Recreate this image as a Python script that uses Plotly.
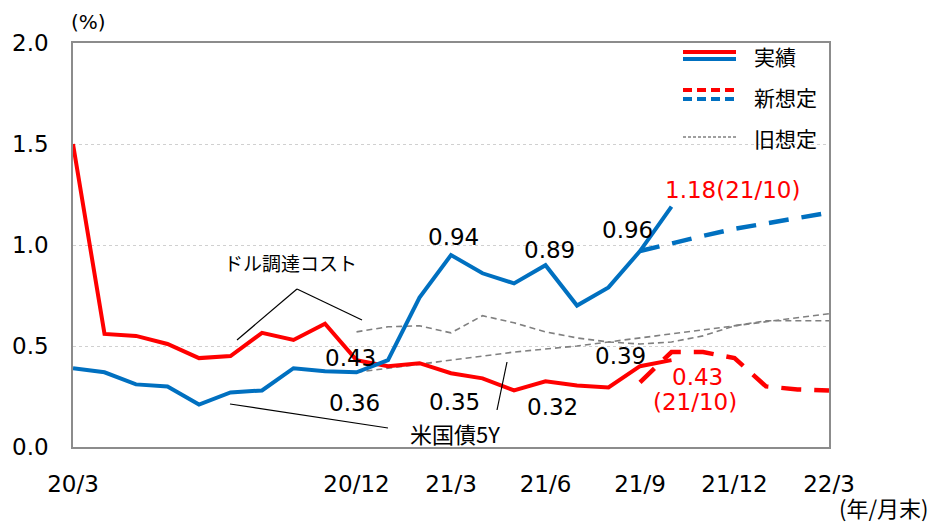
import plotly.graph_objects as go

# ---------------- data ----------------
tick_vals = [0, 9, 12, 15, 18, 21, 24]
tick_text = ["20/3", "20/12", "21/3", "21/6", "21/9", "21/12", "22/3"]

actual_x = list(range(0, 20))          # 20/3 .. 21/10 (month index)
red_actual = [1.50, 0.56, 0.55, 0.51, 0.44, 0.45, 0.565, 0.53, 0.61, 0.43,
              0.40, 0.415, 0.365, 0.34, 0.28, 0.325, 0.305, 0.295, 0.40, 0.43]
blue_actual = [0.39, 0.37, 0.31, 0.30, 0.21, 0.27, 0.28, 0.39, 0.375, 0.37,
               0.43, 0.74, 0.95, 0.86, 0.81, 0.90, 0.70, 0.79, 0.97, 1.19]

new_x = list(range(18, 25))            # 21/9 .. 22/3
red_new = [0.32, 0.47, 0.47, 0.44, 0.30, 0.285, 0.28]
blue_new = [0.97, 1.01, 1.045, 1.08, 1.105, 1.13, 1.16]

old_x = list(range(9, 25))             # 20/12 .. 22/3
gray_old_a = [0.57, 0.595, 0.60, 0.565, 0.65, 0.615, 0.57, 0.54, 0.52, 0.51,
              0.52, 0.55, 0.60, 0.625, 0.625, 0.625]
gray_old_b = [0.37, 0.39, 0.41, 0.43, 0.45, 0.47, 0.485, 0.50, 0.52, 0.54,
              0.56, 0.58, 0.60, 0.62, 0.64, 0.66]

RED = "#FF0000"
BLUE = "#0070C0"
GRAY = "#808080"
NUM_FONT = "DejaVu Sans"
JP_FONT = "Noto Sans CJK JP"

# page has an 8px body margin; figure size reduced accordingly
OFF = 8
W, H = 942 - OFF, 523 - OFF
# plot-area geometry in page pixels (used only to place free text / legend)
L, R, T, B = 73, 829, 43, 447


def px(x):
    return (x - L) / (R - L)


def py(y):
    return (B - y) / (B - T)


fig = go.Figure()

for ys in (gray_old_a, gray_old_b):
    fig.add_trace(go.Scatter(x=old_x, y=ys, mode="lines",
                             line=dict(color=GRAY, width=1.6, dash="6px,4px"),
                             showlegend=False, hoverinfo="skip"))

fig.add_trace(go.Scatter(x=actual_x, y=red_actual, mode="lines",
                         line=dict(color=RED, width=4), showlegend=False))
fig.add_trace(go.Scatter(x=actual_x, y=blue_actual, mode="lines",
                         line=dict(color=BLUE, width=4), showlegend=False))
fig.add_trace(go.Scatter(x=new_x, y=red_new, mode="lines",
                         line=dict(color=RED, width=4.5, dash="20px,13px"),
                         showlegend=False))
fig.add_trace(go.Scatter(x=new_x, y=blue_new, mode="lines",
                         line=dict(color=BLUE, width=4.5, dash="20px,13px"),
                         showlegend=False))

annotations = []


def num_label(text, x, y, xs, ys, color="black"):
    annotations.append(dict(x=x, y=y, xref="x", yref="y", text=text,
                            showarrow=False, xshift=xs, yshift=ys,
                            xanchor="center", yanchor="middle",
                            font=dict(family=NUM_FONT, size=23, color=color)))


num_label("0.43", 9, red_actual[9], -6, 2)
num_label("0.36", 9, blue_actual[9], -2, -31)
num_label("0.94", 12, blue_actual[12], 2, 18)
num_label("0.35", 12, red_actual[12], 3, -29)
num_label("0.89", 15, blue_actual[15], 4, 15)
num_label("0.32", 15, red_actual[15], 7, -26)
num_label("0.96", 18, blue_actual[18], -13, 21)
num_label("0.39", 18, red_actual[18], -20, 10)
num_label("1.18(21/10)", 19, blue_actual[19], 61, 17, RED)
num_label("0.43", 19, red_actual[19], 26, -17, RED)
num_label("(21/10)", 19, red_actual[19], 23, -42, RED)


def free_text(text, x, y, size, family=JP_FONT, xanchor="center"):
    annotations.append(dict(x=px(x), y=py(y), xref="paper", yref="paper",
                            text=text, showarrow=False,
                            xanchor=xanchor, yanchor="middle",
                            font=dict(family=family, size=size, color="black")))


free_text("ドル調達コスト", 290, 262, 19)
free_text("米国債5Y", 455, 433, 22)
free_text("(%)", 88, 22, 20, NUM_FONT)
free_text("(年/月末)", 884, 507, 22)

# legend texts
for label, ycen in (("実績", 56), ("新想定", 97), ("旧想定", 138)):
    free_text(label, 752, ycen, 21, xanchor="left")

shapes = []


def seg(x0, y0, x1, y1, color="black", width=1.2, dash=None):
    d = dict(type="line", xref="paper", yref="paper",
             x0=px(x0), y0=py(y0), x1=px(x1), y1=py(y1),
             line=dict(color=color, width=width))
    if dash:
        d["line"]["dash"] = dash
    shapes.append(d)


# leader lines
seg(237, 340, 297, 289)
seg(297, 289, 362, 320)
seg(230, 404, 388, 428)
seg(497, 410, 507, 362)

# legend symbols
seg(683, 52, 736, 52, RED, 4)
seg(683, 59, 736, 59, BLUE, 4)
seg(683, 90, 736, 90, RED, 4, "9px,5px")
seg(683, 99, 736, 99, BLUE, 4, "9px,5px")
seg(683, 137, 736, 137, GRAY, 1.6, "3px,2px")

fig.update_layout(
    width=W, height=H,
    margin=dict(l=L - OFF, r=W - (R - OFF), t=T - OFF, b=H - (B - OFF), pad=0,
                autoexpand=False),
    paper_bgcolor="white", plot_bgcolor="white",
    showlegend=False,
    annotations=annotations,
    shapes=shapes,
    xaxis=dict(range=[0, 24], tickvals=tick_vals, ticktext=tick_text,
               showgrid=False, zeroline=False, automargin=False,
               showline=True, linecolor="#8c8c8c", linewidth=1.5, mirror=True,
               ticks="", ticklabelstandoff=16,
               tickfont=dict(family=NUM_FONT, size=23, color="black")),
    yaxis=dict(range=[0, 2], tickvals=[0, 0.5, 1.0, 1.5, 2.0],
               ticktext=["0.0", "0.5", "1.0", "1.5", "2.0"],
               showgrid=True, gridcolor="#d0d0d0", griddash="dot", gridwidth=1,
               zeroline=False, automargin=False,
               showline=True, linecolor="#8c8c8c", linewidth=1.5, mirror=True,
               ticks="", ticklabelstandoff=18,
               tickfont=dict(family=NUM_FONT, size=23, color="black")),
)

fig.write_html("out.html")
